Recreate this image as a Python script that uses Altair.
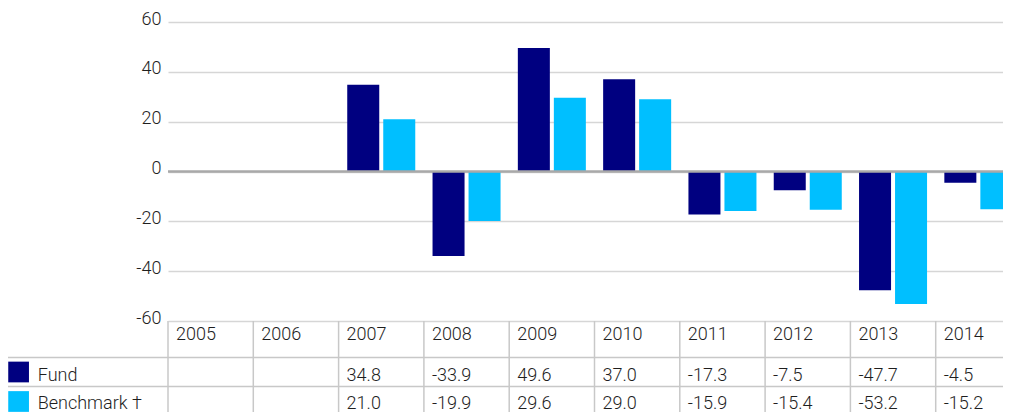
import altair as alt
import pandas as pd

years = ["2005", "2006", "2007", "2008", "2009", "2010", "2011", "2012", "2013", "2014"]
fund = [None, None, 34.8, -33.9, 49.6, 37.0, -17.3, -7.5, -47.7, -4.5]
benchmark = [None, None, 21.0, -19.9, 29.6, 29.0, -15.9, -15.4, -53.2, -15.2]
series_names = ["Fund", "Benchmark"]
row_labels = ["Fund", "Benchmark \u2020"]
colors = ["#000080", "#00BFFF"]
y_ticks = [-60, -40, -20, 0, 20, 40, 60]
title_text = "Historic performance to 31 December 2014"

rows = []
for s, vals in zip(series_names, [fund, benchmark]):
    for yr, v in zip(years, vals):
        rows.append({"year": yr, "series": s, "value": v,
                     "label": "" if v is None else f"{v:.1f}"})
df = pd.DataFrame(rows)
df_years = pd.DataFrame({"year": years})
df_rowlab = pd.DataFrame({"series": series_names, "name": row_labels})

FONT = "Roboto"
WEIGHT = 300
TXT = "#1e1e1e"
LINE = "#c8c8c8"

W = 853      # plot width; its right part is clipped at the page edge, as in the reference
PAD_R = -18  # keeps the whole SVG 995 px wide so the page does not rescale it

xscale = alt.Scale(domain=years, paddingInner=0, paddingOuter=0)
cscale = alt.Scale(domain=series_names, range=colors)

bars = alt.Chart(df).transform_filter("isValid(datum.value)").mark_bar().encode(
    x=alt.X("year:N", scale=xscale, axis=None),
    xOffset=alt.XOffset("series:N", scale=alt.Scale(domain=series_names, paddingInner=0.111, paddingOuter=0.24)),
    y=alt.Y("value:Q",
            scale=alt.Scale(domain=[-60, 60], range=[299, 0], nice=False, zero=False),
            axis=alt.Axis(values=y_ticks, title=None, ticks=False, domain=False,
                          grid=True, gridColor="#d6d6d6", gridWidth=1.5,
                          labelFont=FONT, labelFontWeight=WEIGHT, labelFontSize=18, labelColor=TXT,
                          labelPadding=7, labelOffset=-3,
                          labelExpr="'' + datum.value")),
    color=alt.Color("series:N", scale=cscale, legend=None),
)

zero = alt.Chart(pd.DataFrame({"v": [0]})).mark_rule(color="#a9a9a9", strokeWidth=2.5).encode(
    y=alt.Y("v:Q")
)

vlines = alt.Chart(df_years).mark_rule(color=LINE, strokeWidth=1.5).encode(
    x=alt.X("year:N", scale=xscale, bandPosition=0, axis=None),
    y=alt.value(299), y2=alt.value(390),
)

hline1 = alt.Chart(df_years.head(1)).mark_rule(color=LINE, strokeWidth=1.5).encode(
    x=alt.value(-160), x2=alt.value(W), y=alt.value(335.5))
hline2 = alt.Chart(df_years.head(1)).mark_rule(color=LINE, strokeWidth=1.5).encode(
    x=alt.value(-160), x2=alt.value(W), y=alt.value(364.5))

txt = dict(align="left", baseline="alphabetic", font=FONT, fontWeight=WEIGHT, fontSize=18, color=TXT)

header = alt.Chart(df_years).mark_text(dx=8, **txt).encode(
    x=alt.X("year:N", scale=xscale, bandPosition=0, axis=None),
    y=alt.value(318), text="year:N",
)

def value_row(series, ypos):
    return alt.Chart(df).transform_filter(
        f"datum.series == '{series}' && isValid(datum.value)"
    ).mark_text(dx=8, **txt).encode(
        x=alt.X("year:N", scale=xscale, bandPosition=0, axis=None),
        y=alt.value(ypos), text="label:N",
    )

fund_row = value_row("Fund", 358.5)
bench_row = value_row("Benchmark", 387)

def label_row(series, ypos, sq_y):
    d = alt.Chart(df_rowlab).transform_filter(f"datum.series == '{series}'")
    sw = d.mark_square(size=430, opacity=1).encode(
        x=alt.value(-149.4), y=alt.value(sq_y),
        color=alt.Color("series:N", scale=cscale, legend=None),
    )
    lab = d.mark_text(**txt).encode(x=alt.value(-130.3), y=alt.value(ypos), text="name:N")
    return sw, lab

fsw, flab = label_row("Fund", 358.5, 350)
bsw, blab = label_row("Benchmark", 387, 379.5)

title = alt.Chart(pd.DataFrame({"t": [title_text]})).mark_text(
    align="left", baseline="alphabetic", font="Liberation Sans", fontSize=20,
    fontWeight="bold", color="#111111"
).encode(x=alt.value(-160), y=alt.value(-19), text="t:N")

chart = alt.layer(
    bars, zero, vlines, hline1, hline2, header, fund_row, bench_row,
    fsw, flab, bsw, blab, title
).properties(
    width=W, height=390,
    autosize=alt.AutoSizeParams(type="none"),
    padding={"left": 160, "top": 14, "right": PAD_R, "bottom": 0},
).configure_view(strokeWidth=0)

chart.save("out.html", embed_options={"renderer": "svg", "actions": False})
